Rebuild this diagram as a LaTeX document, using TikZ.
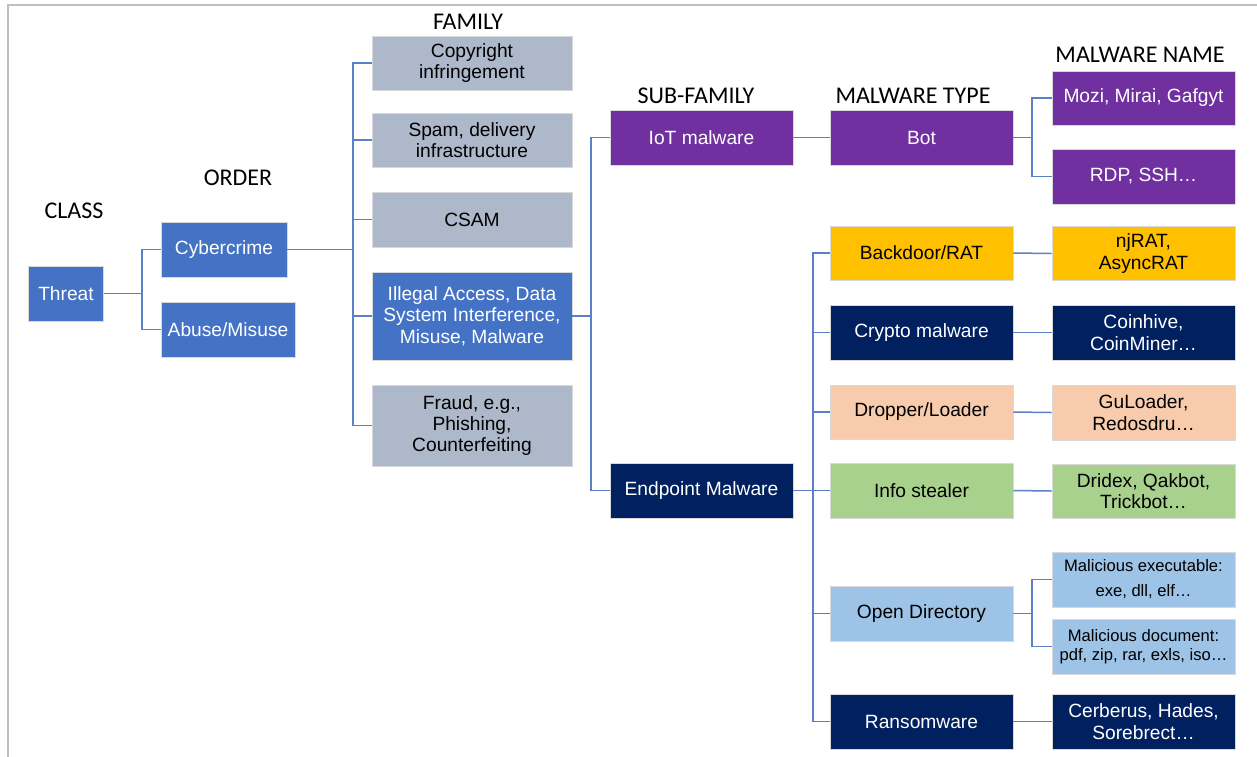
\documentclass[tikz,border=0pt]{standalone}
\usepackage{fontspec}
\setmainfont{Liberation Sans}
\newfontfamily\hdrfont{Carlito}
\definecolor{cblue}{HTML}{4472C4}
\definecolor{cgray}{HTML}{ADB9CA}
\definecolor{cpurple}{HTML}{7030A0}
\definecolor{cnavy}{HTML}{002060}
\definecolor{cgold}{HTML}{FFC000}
\definecolor{cpeach}{HTML}{F8CBAD}
\definecolor{cgreen}{HTML}{A9D18E}
\definecolor{clight}{HTML}{9DC3E6}
\definecolor{cline}{HTML}{5B7FC8}
\definecolor{cframe}{HTML}{BFBFBF}
\tikzset{
  box/.style={rectangle, draw=white!85!black, line width=0.6pt, inner sep=0pt, align=center,
    font=\fontsize{19.2}{21.3}\selectfont},
  wbox/.style={box, text=white},
  kbox/.style={box, text=black},
  hdr/.style={anchor=base, inner sep=0pt, font=\hdrfont\fontsize{24}{28}\selectfont},
  conn/.style={draw=cline, line width=1.5pt},
}
\begin{document}
\begin{tikzpicture}[x=1pt,y=-1pt]
\useasboundingbox (0,0) rectangle (1257,756);
\draw[cframe, line width=2pt] (8,760) -- (8,5) -- (1260,5);

% headers
\node[hdr] (hclass) at (74,218) {CLASS};
\node[hdr] (horder) at (238,185) {ORDER};
\node[hdr] (hfam) at (468,29) {FAMILY};
\node[hdr] (hsub) at (696,103) {SUB-FAMILY};
\node[hdr] (htype) at (913,103) {MALWARE TYPE};
\node[hdr] (hname) at (1140,62) {MALWARE NAME};

% class / order
\node[wbox, fill=cblue, minimum width=75, minimum height=55] (threat) at (66,293.5) {Threat};
\node[wbox, fill=cblue, minimum width=126, minimum height=55] (cyber) at (224,249.5) {Cybercrime};
\node[wbox, fill=cblue, minimum width=134, minimum height=55] (abuse) at (228,329.5) {Abuse/Misuse};

% family
\node[kbox, fill=cgray, minimum width=200, minimum height=54] (copy) at (472,63) {Copyright\\infringement};
\node[kbox, fill=cgray, minimum width=200, minimum height=54] (spam) at (472,140) {Spam, delivery\\infrastructure};
\node[kbox, fill=cgray, minimum width=200, minimum height=55] (csam) at (472,219.5) {CSAM};
\node[wbox, fill=cblue, minimum width=200, minimum height=88] (illegal) at (472,316) {Illegal Access, Data\\System Interference,\\Misuse, Malware};
\node[kbox, fill=cgray, minimum width=200, minimum height=81] (fraud) at (472,425.5) {Fraud, e.g.,\\Phishing,\\Counterfeiting};

% sub-family
\node[wbox, fill=cpurple, minimum width=183, minimum height=55] (iot) at (701.5,137.5) {IoT malware};
\node[wbox, fill=cnavy, minimum width=183, minimum height=55] (endp) at (701.5,490.5) {Endpoint Malware};

% malware type
\node[wbox, fill=cpurple, minimum width=183, minimum height=55] (bot) at (921.5,137.5) {Bot};
\node[kbox, fill=cgold, minimum width=183, minimum height=54] (back) at (921.5,253) {Backdoor/RAT};
\node[wbox, fill=cnavy, minimum width=183, minimum height=55] (crypto) at (921.5,332.5) {Crypto malware};
\node[kbox, fill=cpeach, minimum width=183, minimum height=54] (drop) at (921.5,412) {Dropper/Loader};
\node[kbox, fill=cgreen, minimum width=183, minimum height=55] (info) at (921.5,490.5) {Info stealer};
\node[kbox, fill=clight, minimum width=183, minimum height=55] (open) at (921.5,613.5) {Open Directory};
\node[wbox, fill=cnavy, minimum width=183, minimum height=55] (ransom) at (921.5,721.5) {Ransomware};

% malware name
\node[wbox, fill=cpurple, minimum width=183, minimum height=54] (mozi) at (1143.5,98) {Mozi, Mirai, Gafgyt};
\node[wbox, fill=cpurple, minimum width=183, minimum height=55] (rdp) at (1143.5,176.5) {RDP, SSH…};
\node[kbox, fill=cgold, minimum width=183, minimum height=54] (njrat) at (1143.5,253.5) {njRAT,\\AsyncRAT};
\node[wbox, fill=cnavy, minimum width=183, minimum height=55] (coin) at (1143.5,332.5) {Coinhive,\\CoinMiner…};
\node[kbox, fill=cpeach, minimum width=183, minimum height=55] (gul) at (1143.5,412.5) {GuLoader,\\Redosdru…};
\node[kbox, fill=cgreen, minimum width=183, minimum height=54] (dridex) at (1143.5,491) {Dridex, Qakbot,\\Trickbot…};
\node[kbox, fill=clight, minimum width=183, minimum height=55, font=\fontsize{16.6}{25}\selectfont] (malexe) at (1143.5,579.5) {Malicious executable:\\exe, dll, elf…};
\node[kbox, fill=clight, minimum width=183, minimum height=55, font=\fontsize{16.6}{19}\selectfont] (maldoc) at (1143.5,646.5) {Malicious document:\\pdf, zip, rar, exls, iso…};
\node[wbox, fill=cnavy, minimum width=183, minimum height=55] (cerb) at (1143.5,721.5) {Cerberus, Hades,\\Sorebrect…};

% junctions
\coordinate (j1) at (142,293.5);
\coordinate (j2) at (353,249.5);
\coordinate (j3) at (591,316);
\coordinate (j4) at (1032,137.5);
\coordinate (j5) at (813,490.5);
\coordinate (j6) at (1032,613.5);

% connectors
\draw[conn] (threat.east) -- (j1);
\draw[conn] (j1) |- (cyber.west);
\draw[conn] (j1) |- (abuse.west);

\draw[conn] (cyber.east) -- (j2);
\draw[conn] (j2) |- (copy.west);
\draw[conn] (j2) |- (spam.west);
\draw[conn] (j2) |- (csam.west);
\draw[conn] (j2) |- (illegal.west);
\draw[conn] (j2) |- (fraud.west);

\draw[conn] (illegal.east) -- (j3);
\draw[conn] (j3) |- (iot.west);
\draw[conn] (j3) |- (endp.west);

\draw[conn] (iot.east) -- (bot.west);
\draw[conn] (bot.east) -- (j4);
\draw[conn] (j4) |- (mozi.west);
\draw[conn] (j4) |- (rdp.west);

\draw[conn] (endp.east) -- (j5);
\draw[conn] (j5) |- (back.west);
\draw[conn] (j5) |- (crypto.west);
\draw[conn] (j5) |- (drop.west);
\draw[conn] (j5) |- (info.west);
\draw[conn] (j5) |- (open.west);
\draw[conn] (j5) |- (ransom.west);

\draw[conn] (back.east) -- (njrat.west);
\draw[conn] (crypto.east) -- (coin.west);
\draw[conn] (drop.east) -- (gul.west);
\draw[conn] (info.east) -- (dridex.west);
\draw[conn] (open.east) -- (j6);
\draw[conn] (j6) |- (malexe.west);
\draw[conn] (j6) |- (maldoc.west);
\draw[conn] (ransom.east) -- (cerb.west);
\end{tikzpicture}
\end{document}
